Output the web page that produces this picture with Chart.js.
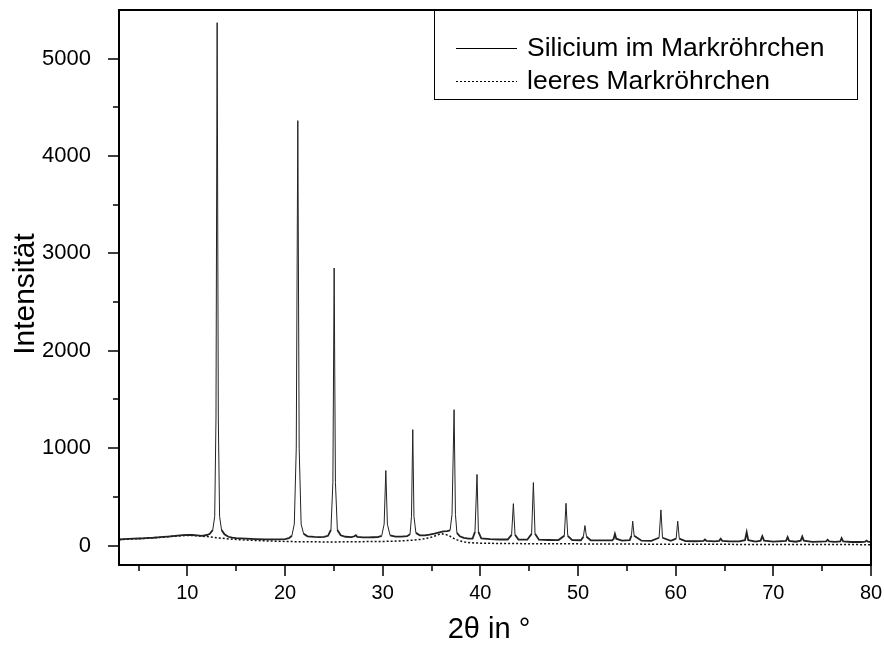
<!DOCTYPE html>
<html><head><meta charset="utf-8">
<script src="https://cdn.jsdelivr.net/npm/chart.js@4.4.1/dist/chart.umd.min.js"></script>
<style>html,body{margin:0;padding:0;background:#fff;overflow:hidden}#wrap{width:884px;height:651px}</style>
</head><body><div id="wrap"><canvas id="c" width="884" height="651"></canvas></div>
<script>
// ---- Data ----
const seriesLabels = ['Silicium im Markröhrchen', 'leeres Markröhrchen'];
const xTitle = '2θ in °';
const yTitle = 'Intensität';

const siX = [3.0,3.5,4.0,4.5,5.0,5.5,6.0,6.5,7.0,7.5,8.0,8.5,9.0,9.5,10.0,10.5,11.0,11.5,12.0,12.3,12.6,12.8,12.93,13.05,13.17,13.3,13.5,13.8,14.2,14.6,15.0,16.0,17.0,18.0,19.0,20.0,20.4,20.7,20.95,21.15,21.31,21.45,21.65,21.9,22.3,23.0,23.5,24.0,24.4,24.7,24.9,25.03,25.16,25.36,25.7,26.2,26.8,27.1,27.25,27.4,28.0,28.5,29.0,29.5,29.9,30.15,30.32,30.48,30.75,31.3,31.9,32.5,32.8,32.95,33.08,33.2,33.4,33.8,34.3,34.8,35.3,35.8,36.2,36.6,36.9,37.1,37.31,37.45,37.6,37.9,38.3,38.8,39.2,39.45,39.66,39.8,40.1,41.0,42.0,42.8,43.2,43.38,43.55,43.9,44.8,45.25,45.43,45.6,46.0,47.0,48.0,48.6,48.77,48.95,49.4,50.3,50.55,50.71,50.87,51.3,52.5,53.5,53.65,53.78,53.92,54.5,55.3,55.47,55.6,55.75,56.5,57.5,58.3,58.49,58.65,59.5,60.05,60.21,60.37,61.0,62.0,62.85,63.0,63.15,64.0,64.45,64.61,64.77,65.5,66.5,67.1,67.27,67.43,68.2,68.7,68.87,69.05,70.0,71.3,71.46,71.62,72.3,72.8,72.96,73.12,74.0,75.4,75.56,75.72,76.3,76.85,76.99,77.15,78.0,79.0,79.4,79.55,79.7,80.0];
const siY = [62,66,68,70,72,74,78,80,84,88,92,97,102,106,110,108,104,100,108,120,160,300,1300,5370,1300,300,160,115,90,80,75,70,66,64,63,66,75,100,220,1000,4364,1000,220,120,95,88,86,88,100,160,650,2850,650,160,105,90,86,95,105,88,84,84,85,86,100,220,770,220,105,92,92,96,115,300,1190,300,130,105,105,112,122,135,145,148,155,320,1395,320,130,95,78,70,70,140,730,140,72,65,62,62,110,430,110,62,60,120,647,120,60,57,56,100,434,100,56,54,90,205,90,54,52,52,70,120,70,51,55,100,250,100,50,48,80,366,80,48,70,250,70,45,44,48,62,48,43,48,69,48,42,42,55,137,55,41,50,96,50,40,48,86,48,39,50,92,50,38,42,58,42,37,42,75,42,36,36,40,51,40,35];

const leerX = [3.0,4.0,5.0,6.0,7.0,8.0,9.0,10.0,11.0,12.0,13.0,14.0,15.0,16.0,17.0,18.0,19.0,20.0,21.0,22.0,23.0,24.0,25.0,26.0,27.0,28.0,29.0,30.0,31.0,32.0,33.0,34.0,34.8,35.4,35.8,36.1,36.5,36.9,37.3,37.8,38.4,39.0,40.0,42.0,45.0,50.0,55.0,60.0,65.0,70.0,75.0,80.0];
const leerY = [60,66,70,76,82,90,98,104,100,92,80,70,62,56,52,48,45,42,40,39,38,37,37,38,40,40,41,42,44,48,54,64,80,100,115,120,112,95,72,50,36,28,24,21,19,17,15,13,12,11,10,9];

const xMajor = [10,20,30,40,50,60,70,80];
const xMinor = [5,15,25,35,45,55,65,75];
const yMajor = [0,1000,2000,3000,4000,5000];
const yMinor = [500,1500,2500,3500,4500];

const toPts = (xs, ys) => xs.map((x, i) => ({x, y: ys[i]}));

const frame = {
  id: 'frame',
  afterDraw(chart) {
    const ctx = chart.ctx, a = chart.chartArea, sx = chart.scales.x, sy = chart.scales.y;
    ctx.save();
    // legend box
    const bx = 434, by = a.top, bw = 857 - 434, bh = 99 - a.top;
    ctx.fillStyle = '#fff';
    ctx.fillRect(bx, by, bw, bh);
    ctx.lineWidth = 1;
    ctx.strokeStyle = '#000';
    ctx.strokeRect(bx + 0.5, by + 0.5, bw, bh);
    const rows = [48, 81];
    chart.data.datasets.forEach((ds, i) => {
      ctx.strokeStyle = '#000';
      ctx.lineWidth = 1;
      ctx.setLineDash(ds.borderDash || []);
      ctx.beginPath(); ctx.moveTo(456, rows[i] + 0.5); ctx.lineTo(517, rows[i] + 0.5); ctx.stroke();
      ctx.setLineDash([]);
      ctx.fillStyle = '#000';
      ctx.textAlign = 'left';
      ctx.textBaseline = 'middle';
      ctx.font = '26.5px "Liberation Sans", Arial, sans-serif';
      ctx.fillText(ds.label, 527, rows[i] + 1);
    });
    // frame
    ctx.strokeStyle = '#000';
    ctx.lineWidth = 2;
    ctx.strokeRect(a.left, a.top, a.right - a.left, a.bottom - a.top);
    ctx.lineWidth = 1.5;
    ctx.beginPath();
    xMajor.forEach(v => { const p = Math.round(sx.getPixelForValue(v)); ctx.moveTo(p, a.bottom); ctx.lineTo(p, a.bottom + 11); });
    xMinor.forEach(v => { const p = Math.round(sx.getPixelForValue(v)); ctx.moveTo(p, a.bottom); ctx.lineTo(p, a.bottom + 6); });
    yMajor.forEach(v => { const p = Math.round(sy.getPixelForValue(v)); ctx.moveTo(a.left, p); ctx.lineTo(a.left - 11, p); });
    yMinor.forEach(v => { const p = Math.round(sy.getPixelForValue(v)); ctx.moveTo(a.left, p); ctx.lineTo(a.left - 6, p); });
    ctx.stroke();
    // axis titles
    ctx.fillStyle = '#000';
    ctx.textAlign = 'center';
    ctx.textBaseline = 'middle';
    ctx.font = '29px "Liberation Sans", Arial, sans-serif';
    ctx.fillText(xTitle, 489, 630);
    ctx.save();
    ctx.translate(26, 294);
    ctx.rotate(-Math.PI / 2);
    ctx.font = '30px "Liberation Sans", Arial, sans-serif';
    ctx.fillText(yTitle, 0, 0);
    ctx.restore();
    ctx.restore();
  }
};

new Chart(document.getElementById('c'), {
  type: 'line',
  data: {
    datasets: [
      {
        label: seriesLabels[0],
        data: toPts(siX, siY),
        borderColor: '#222',
        borderWidth: 1,
        pointRadius: 0,
        tension: 0,
        segment: { borderWidth: c => (c.p0.parsed.y < 200 && c.p1.parsed.y < 200) ? 1.8 : 1 }
      },
      {
        label: seriesLabels[1],
        data: toPts(leerX, leerY),
        borderColor: '#111',
        borderWidth: 1.5,
        borderDash: [2, 2],
        pointRadius: 0,
        tension: 0
      }
    ]
  },
  options: {
    responsive: false,
    animation: false,
    devicePixelRatio: 1,
    layout: { padding: { left: 0, right: 13, top: 10, bottom: 0 } },
    plugins: { legend: { display: false }, tooltip: { enabled: false } },
    scales: {
      x: {
        type: 'linear', min: 3, max: 80,
        afterBuildTicks: s => { s.ticks = xMajor.map(v => ({ value: v })); },
        afterFit: s => { s.height = 86; s.paddingLeft = 0; s.paddingRight = 0; },
        grid: { display: false }, border: { display: false },
        ticks: { color: '#000', padding: 8, maxRotation: 0, autoSkip: false,
          font: { family: '"Liberation Sans Narrow", "Liberation Sans", Arial', size: 20 },
          callback: v => String(v) }
      },
      y: {
        type: 'linear', min: -200, max: 5500,
        afterBuildTicks: s => { s.ticks = yMajor.map(v => ({ value: v })); },
        afterFit: s => { s.width = 119; s.paddingTop = 0; s.paddingBottom = 0; },
        grid: { display: false }, border: { display: false },
        ticks: { color: '#000', padding: 20, autoSkip: false,
          font: { family: '"Liberation Sans", Arial', size: 22 },
          callback: v => String(v) }
      }
    }
  },
  plugins: [frame]
});
</script></body></html>
